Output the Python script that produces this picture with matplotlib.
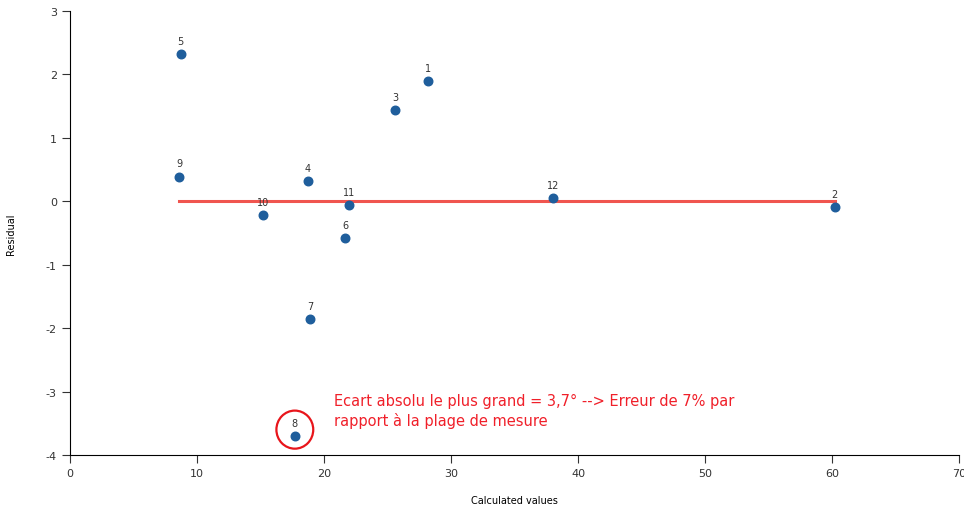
import matplotlib.pyplot as plt
from matplotlib.patches import Ellipse

plt.rcParams['axes.unicode_minus'] = False

# point ids and values
labels = ['1', '2', '3', '4', '5', '6', '7', '8', '9', '10', '11', '12']
calculated = [28.2, 60.2, 25.6, 18.7, 8.7, 21.65, 18.9, 17.7, 8.6, 15.2, 22.0, 38.0]
residual = [1.89, -0.09, 1.44, 0.32, 2.32, -0.58, -1.86, -3.7, 0.39, -0.22, -0.06, 0.05]

fig = plt.figure(figsize=(9.64, 5.06), dpi=100)
ax = fig.add_axes([0.0726, 0.0988, 0.9224, 0.8775])

# zero reference line across the data range
ax.plot([min(calculated), max(calculated)], [0, 0], color='#f0554f', lw=2.2, zorder=1)
ax.scatter(calculated, residual, s=38, color='#1f5e9c', zorder=3)
for lab, x, y in zip(labels, calculated, residual):
    ax.annotate(lab, (x, y), xytext=(0, 6), textcoords='offset points',
                ha='center', va='bottom', fontsize=7, color='#333333')

# red highlight around the largest residual
i8 = labels.index('8')
ax.add_patch(Ellipse((calculated[i8], residual[i8] + 0.1), 2.9, 0.6,
                     fill=False, ec='#e8151b', lw=1.6, zorder=4))
ax.text(20.8, -3.3, "Ecart absolu le plus grand = 3,7° --> Erreur de 7% par\nrapport à la plage de mesure",
        color='#f0202a', fontsize=10.5, va='center', ha='left', linespacing=1.3)

ax.set_xlim(0, 70)
ax.set_ylim(-4, 3)
ax.set_xticks(range(0, 71, 10))
ax.set_yticks(range(-4, 4))
ax.spines['top'].set_visible(False)
ax.spines['right'].set_visible(False)
ax.tick_params(labelsize=8, length=6, color='#333333', labelcolor='#333333')
ax.set_xlabel("Calculated values", fontsize=7)
ax.set_ylabel("Residual", fontsize=7)
ax.xaxis.set_label_coords(0.5, -0.09)
ax.yaxis.set_label_coords(-0.061, 0.5)

plt.savefig('out.png', dpi=100)
plt.close()
